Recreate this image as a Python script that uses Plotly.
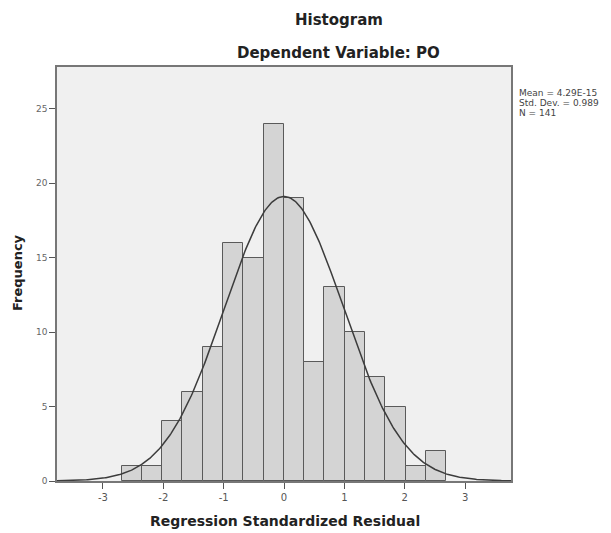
import numpy as np
import plotly.graph_objects as go

# ---- data ----
counts = [1, 1, 4, 6, 9, 16, 15, 24, 19, 8, 13, 10, 7, 5, 1, 2]
bin_left = -2.69
bin_width = 0.336
mean_val = 0.0
std_dev = 0.989
n_obs = 141
x_ticks = [-3, -2, -1, 0, 1, 2, 3]
y_ticks = [0, 5, 10, 15, 20, 25]
stats_lines = ["Mean = 4.29E-15", "Std. Dev. = 0.989", "N = 141"]

centers = [bin_left + bin_width * (i + 0.5) for i in range(len(counts))]

xc = np.linspace(-3.76, 3.76, 400)
yc = n_obs * bin_width / (std_dev * np.sqrt(2 * np.pi)) * np.exp(-0.5 * ((xc - mean_val) / std_dev) ** 2)

OFF = 8  # page body margin
W, H = 611 - OFF, 533 - OFF
# desired plot area in screen pixels: x 57..511, y 67..481
L = 57 - OFF
T = 67 - OFF
pw, ph = 454, 414
R = W - L - pw
B = H - T - ph

def px(xpix):
    return (xpix - 57) / pw

def py(ypix):
    return (481 - ypix) / ph

FONT = "DejaVu Sans, Verdana, sans-serif"

fig = go.Figure()
fig.add_trace(go.Bar(
    x=centers, y=counts, width=bin_width,
    marker=dict(color="#d4d4d4", line=dict(color="#5a5a5a", width=1)),
    showlegend=False, hoverinfo="x+y"))
fig.add_trace(go.Scatter(
    x=xc, y=yc, mode="lines", line=dict(color="#3c3c3c", width=1.5),
    showlegend=False, hoverinfo="skip"))

fig.update_layout(
    width=W, height=H,
    margin=dict(l=L, r=R, t=T, b=B),
    paper_bgcolor="white", plot_bgcolor="#f0f0f0",
    bargap=0,
    font=dict(family=FONT, color="#333"),
    xaxis=dict(range=[-3.76, 3.76], tickvals=x_ticks, ticktext=[str(v) for v in x_ticks],
               showgrid=False, zeroline=False, ticks="outside", ticklen=6,
               tickcolor="#555", tickfont=dict(size=10, color="#555"),
               showline=True, linecolor="#777", linewidth=1.5, mirror=True),
    yaxis=dict(range=[0, 27.8], tickvals=y_ticks, ticktext=[str(v) for v in y_ticks],
               showgrid=False, zeroline=False, ticks="outside", ticklen=6,
               tickcolor="#555", tickfont=dict(size=9, color="#666"),
               showline=True, linecolor="#777", linewidth=1.5, mirror=True),
)

ann = []
def add(text, x, y, size, xanchor="center", angle=0, color="#222", family=FONT):
    ann.append(dict(text=text, x=x, y=y, xref="paper", yref="paper",
                    xanchor=xanchor, yanchor="middle", textangle=angle,
                    showarrow=False, font=dict(size=size, color=color, family=family)))

add("<b>Histogram</b>", px(339), py(20), 15)
add("<b>Dependent Variable: PO</b>", px(338), py(53), 15)
add("<b>Regression Standardized Residual</b>", px(285), py(521), 14)
add("<b>Frequency</b>", px(17), py(273), 13, angle=-90)
for i, s in enumerate(stats_lines):
    add(s, px(517), py(93 + 10 * i), 9, xanchor="left", color="#444")
fig.update_layout(annotations=ann)

fig.write_html("out.html")
